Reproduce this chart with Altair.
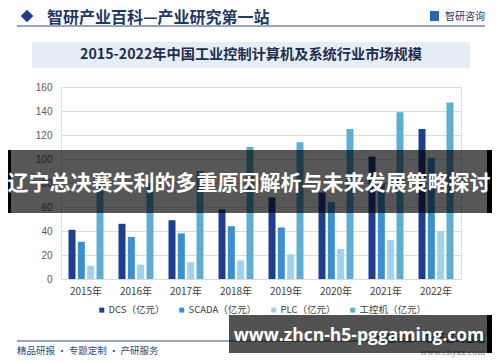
import altair as alt
import pandas as pd

# ---- data ----
years = ["2015年", "2016年", "2017年", "2018年", "2019年", "2020年", "2021年", "2022年"]
series = ["DCS（亿元）", "SCADA（亿元）", "PLC（亿元）", "工控机（亿元）"]
dcs = [41, 46, 49, 58, 68, 72, 102, 125]
scada = [31, 35, 38, 44, 43, 64, 80, 101]
plc = [11, 12, 14, 15.5, 20.5, 25, 32.5, 40]
ipc = [78, 80, 90, 110, 114, 125, 139, 147]
colors = ["#1e3f8f", "#3a8fd3", "#9fd1f1", "#5eaed4"]

header_text = "智研产业百科—产业研究第一站"
logo_text = "智研咨询"
title_text = "2015-2022年中国工业控制计算机及系统行业市场规模"
banner_text = "辽宁总决赛失利的多重原因解析与未来发展策略探讨"
url_text = "www.zhcn-h5-pggaming.com"
footer_left = "精品研报 · 专题定制 · 产研服务"
footer_src = "数据来源：智研咨询整理"
footer_site = "www.chyxx.com"

rows = []
for name, vals in zip(series, [dcs, scada, plc, ipc]):
    for y, v in zip(years, vals):
        rows.append({"year": y, "series": name, "value": v})
df = pd.DataFrame(rows)

FONT = "Noto Sans CJK SC"
one = pd.DataFrame({"k": [0]})


def txt(s, x, y, size, color, weight="normal", align="center", font=FONT):
    return alt.Chart(pd.DataFrame({"t": [s]})).mark_text(
        fontSize=size, color=color, fontWeight=weight, align=align,
        baseline="middle", font=font
    ).encode(x=alt.value(x), y=alt.value(y), text="t:N")


def rect(x, x2, y, y2, color, opacity=1.0):
    return alt.Chart(one).mark_rect(color=color, opacity=opacity).encode(
        x=alt.value(x), x2=alt.value(x2), y=alt.value(y), y2=alt.value(y2))


def rule(x, x2, y, color, w=1):
    return alt.Chart(one).mark_rule(color=color, strokeWidth=w).encode(
        x=alt.value(x), x2=alt.value(x2), y=alt.value(y))


bars = alt.Chart(df).mark_bar().encode(
    x=alt.X("year:N", sort=years, title=None,
            scale=alt.Scale(paddingInner=0.3, paddingOuter=0.15),
            axis=alt.Axis(labelAngle=0, labelFontSize=10, labelColor="#404040",
                          labelFont=FONT, ticks=False, domainColor="#d9d9d9",
                          labelPadding=7, zindex=0)),
    xOffset=alt.XOffset("series:N", sort=series,
                        scale=alt.Scale(paddingInner=0.25)),
    y=alt.Y("value:Q", title=None,
            scale=alt.Scale(domain=[0, 160]),
            axis=alt.Axis(values=list(range(0, 161, 20)), labelFontSize=10,
                          labelColor="#595959", labelFont="Liberation Sans",
                          gridColor="#dcdcdc", domain=False, ticks=False,
                          labelPadding=9, zindex=0)),
    color=alt.Color("series:N", sort=series,
                    scale=alt.Scale(domain=series, range=colors),
                    legend=alt.Legend(title=None, orient="none", legendX=36, legendY=218,
                                      direction="horizontal", symbolType="square",
                                      symbolSize=25, labelFontSize=9.5,
                                      labelFont="Liberation Sans Narrow, Noto Sans CJK SC",
                                      labelColor="#404040", columnPadding=12,
                                      labelOffset=2, zindex=0)),
)

layers = [
    bars,
    # header
    alt.Chart(one).mark_point(shape="diamond", filled=True, size=160, color="#1f3c88",
                              opacity=1).encode(x=alt.value(-34), y=alt.value(-71)),
    txt(header_text, -14, -69.5, 16, "#1f3864", weight="bold", align="left"),
    rect(369, 378, -76, -66, "#2e64b5"),
    txt(logo_text, 384, -70.5, 10, "#1f3864", align="left"),
    rule(-44, 424, -61, "#2f4a7a"),
    # title box
    rect(-29, 409, -45, -19, "#e6edf7"),
    txt(title_text, 190, -32, 14.2, "#1f2d4d", weight="bold"),
    # footer
    rule(-44, 424, 254, "#2f4a7a"),
    txt(footer_left, -44, 264, 9.5, "#2f4a7a", align="left"),
    txt(footer_src, 424, 252, 10, "#2f4a7a", align="right"),
    txt(footer_site, 424, 266, 8, "#8a8a8a", align="right", font="DejaVu Serif"),
    # overlay banner
    rect(-53, 431, 63, 126, "#000000", 0.66),
    rect(-53, -50, 63, 126, "#000000"),
    rect(426, 431, 63, 126, "#000000"),
    txt(banner_text, 188, 97, 21, "#ffffff", weight="bold"),
    # url overlay
    rect(168, 431, 228, 266, "#000000", 0.68),
    rect(426, 431, 228, 266, "#000000"),
    txt(url_text, 298, 249, 17.5, "#ffffff", weight="bold", font="Open Sans"),
]

chart = alt.layer(*layers).properties(
    width=400, height=192,
    autosize=alt.AutoSizeParams(type="none"),
    padding={"left": 53, "top": 79, "right": 31, "bottom": 83},
).configure_view(stroke=None).configure(background="#ffffff")

chart.save("out.html", embed_options={"renderer": "svg", "actions": False})
